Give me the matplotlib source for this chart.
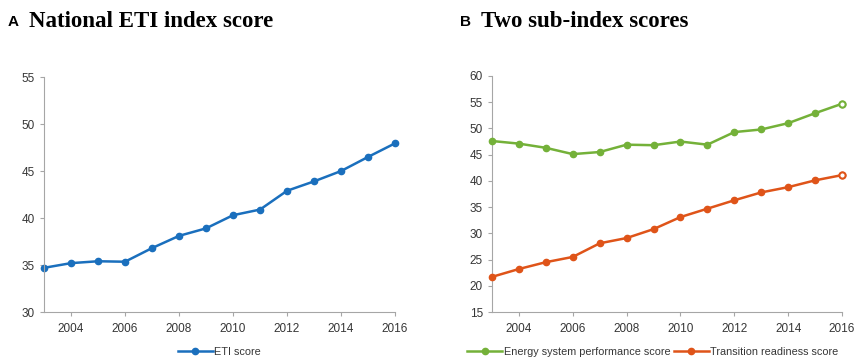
import matplotlib.pyplot as plt

years = list(range(2003, 2017))
eti_score = [34.7, 35.2, 35.4, 35.35, 36.8, 38.1, 38.9, 40.3, 40.9, 42.9, 43.9, 45.0, 46.5, 47.95]
energy_perf = [47.6, 47.1, 46.3, 45.1, 45.5, 46.9, 46.8, 47.5, 46.9, 49.3, 49.8, 51.0, 52.9, 54.7]
transition = [21.7, 23.2, 24.5, 25.5, 28.1, 29.1, 30.8, 33.1, 34.7, 36.3, 37.8, 38.8, 40.1, 41.1]
year_ticks = [2004, 2006, 2008, 2010, 2012, 2014, 2016]

BLUE = '#1a6fbd'
GREEN = '#74b139'
ORANGE = '#df5419'
SPINE = '#a6a6a6'
TEXT = '#363636'

plt.rcParams['font.family'] = ['Liberation Sans', 'DejaVu Sans']

fig = plt.figure(figsize=(8.57, 3.6), dpi=100)
ax1 = fig.add_axes([0.0513, 0.1333, 0.4097, 0.6527])
ax2 = fig.add_axes([0.5741, 0.1333, 0.4084, 0.6557])


def style_axis(ax, ylim, yticks):
    ax.set_xlim(2003, 2016)
    ax.set_ylim(*ylim)
    ax.set_yticks(yticks)
    ax.set_xticks(year_ticks)
    for side in ('top', 'right'):
        ax.spines[side].set_visible(False)
    for side in ('left', 'bottom'):
        ax.spines[side].set_color(SPINE)
        ax.spines[side].set_linewidth(0.8)
    ax.tick_params(colors=SPINE, labelcolor=TEXT, labelsize=8.5, length=3, width=0.8)
    ax.tick_params(axis='x', pad=5)


style_axis(ax1, (30, 55), range(30, 56, 5))
style_axis(ax2, (15, 60), range(15, 61, 5))

ax1.plot(years, eti_score, color=BLUE, lw=1.8, marker='o', ms=4.5, label='ETI score', clip_on=False)

ax2.plot(years, energy_perf, color=GREEN, lw=1.8, marker='o', ms=4.5,
         label='Energy system performance score', clip_on=False, zorder=3)
ax2.plot(years, transition, color=ORANGE, lw=1.8, marker='o', ms=4.5,
         label='Transition readiness score', clip_on=False, zorder=3)
# last point drawn as open circles
ax2.plot(years[-1:], energy_perf[-1:], ls='none', marker='o', ms=4.5, mfc='white', mec=GREEN, mew=1.5, zorder=4, clip_on=False)
ax2.plot(years[-1:], transition[-1:], ls='none', marker='o', ms=4.5, mfc='white', mec=ORANGE, mew=1.5, zorder=4, clip_on=False)

leg_kw = dict(loc='center', frameon=False, fontsize=7.8, labelcolor=TEXT,
              handlelength=3.2, handletextpad=0.15, columnspacing=0.35, ncol=2,
              borderpad=0, borderaxespad=0)
ax1.legend(bbox_to_anchor=(0.5, -0.17), bbox_transform=ax1.transAxes, **leg_kw)
ax2.legend(bbox_to_anchor=(0.46, -0.17), bbox_transform=ax2.transAxes, **leg_kw)

# panel titles: sans-serif letter followed by serif heading
for x_letter, x_title, letter, title in [(0.009, 0.034, 'A', 'National ETI index score'),
                                         (0.537, 0.561, 'B', 'Two sub-index scores')]:
    fig.text(x_letter, 0.94, letter, fontsize=11, fontweight='bold',
             color='black', va='center', family=['Liberation Sans', 'DejaVu Sans'])
    fig.text(x_title, 0.94, title, fontsize=16.5, fontweight='bold', color='black',
             va='center', family=['Liberation Serif', 'DejaVu Serif'])

fig.savefig('out.png', dpi=100)
